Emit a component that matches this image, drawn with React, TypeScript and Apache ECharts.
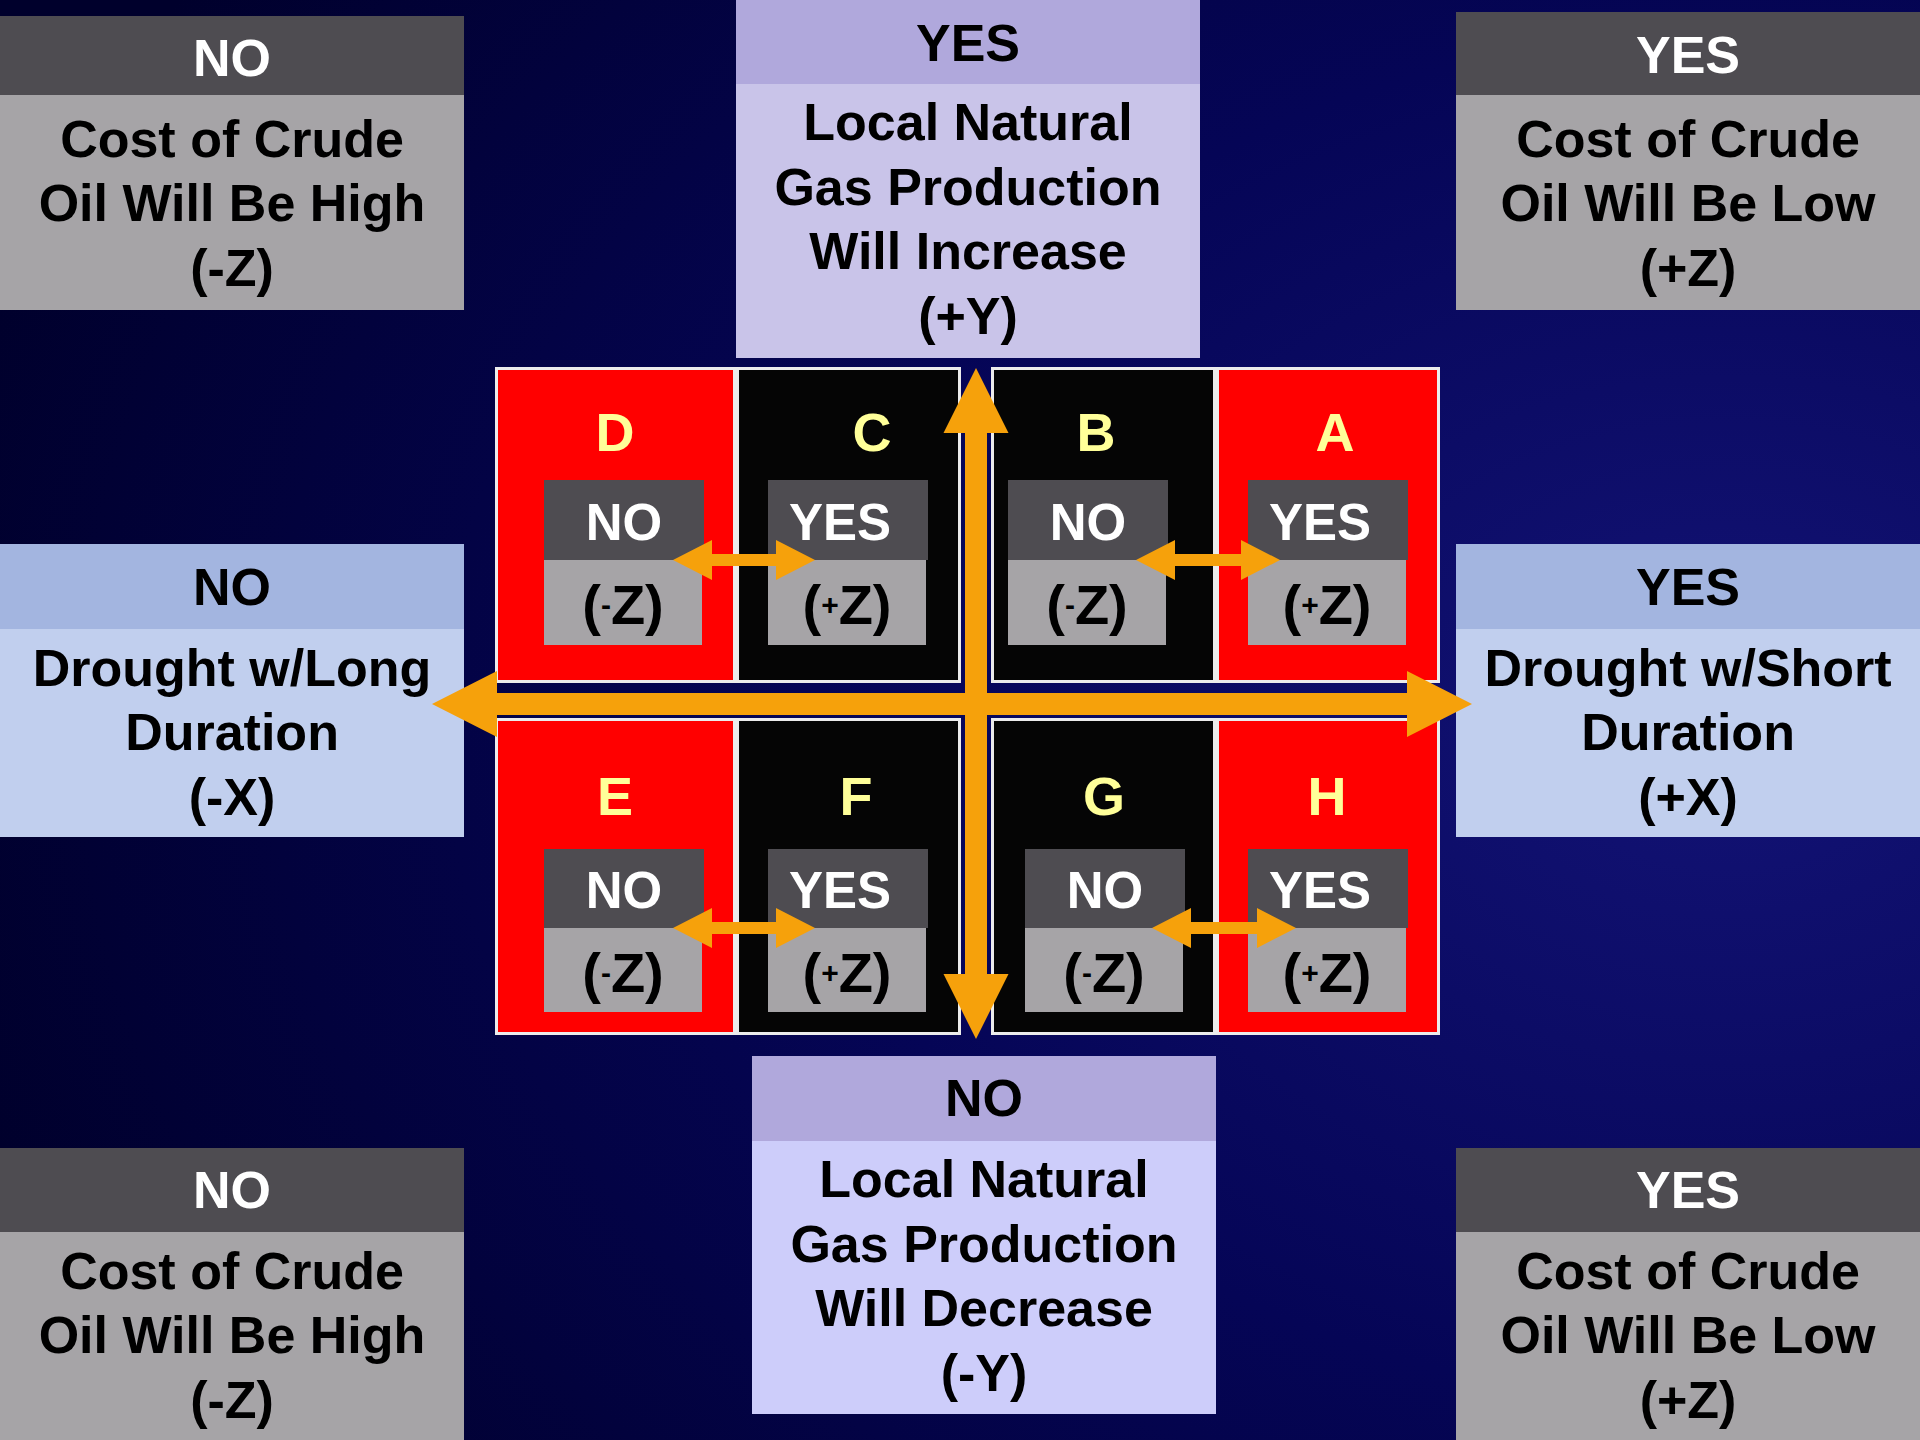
import React, { useEffect, useRef } from "react";
import * as echarts from "echarts";

// ---------- content ----------
const cornerHeaders = ["NO", "YES", "NO", "YES"]; // top-left, top-right, bottom-left, bottom-right
const cornerBodies = [
  "Cost of Crude\nOil Will Be High\n(-Z)",
  "Cost of Crude\nOil Will Be Low\n(+Z)",
  "Cost of Crude\nOil Will Be High\n(-Z)",
  "Cost of Crude\nOil Will Be Low\n(+Z)",
];
const yAxisHeaders = ["YES", "NO"]; // top, bottom
const yAxisBodies = [
  "Local Natural\nGas Production\nWill Increase\n(+Y)",
  "Local Natural\nGas Production\nWill Decrease\n(-Y)",
];
const xAxisHeaders = ["NO", "YES"]; // left, right
const xAxisBodies = ["Drought w/Long\nDuration\n(-X)", "Drought w/Short\nDuration\n(+X)"];
const cellLetters = ["D", "C", "B", "A", "E", "F", "G", "H"];
const cellAnswers = ["NO", "YES", "NO", "YES", "NO", "YES", "NO", "YES"];
const cellSigns = ["-", "+", "-", "+", "-", "+", "-", "+"];
const cellFills = ["red", "black", "black", "red", "red", "black", "black", "red"];

// ---------- layout / style ----------
const FONT = '"Liberation Sans", Arial, Helvetica, sans-serif';
const ORANGE = "#f6a10b";
const DARK_HEAD = "#4e4c51";
const GRAY_BODY = "#a6a4a7";
const LAV_HEAD = "#b0a8dc";
const LAV_BODY_TOP = "#c9c4e9";
const LAV_BODY_BOTTOM = "#cdcdfa";
const BLUE_HEAD = "#a3b5e0";
const BLUE_BODY = "#c1cfee";
const LETTER = "#ffff99";

function txt(x: number, y: number, text: string, fill: string, size: number, lineHeight?: number) {
  return {
    type: "text",
    x,
    y,
    style: {
      text,
      fill,
      fontSize: size,
      fontWeight: "bold",
      fontFamily: FONT,
      align: "center",
      verticalAlign: "middle",
      lineHeight: lineHeight || size * 1.2,
    },
  };
}

function rect(x: number, y: number, w: number, h: number, fill: string, stroke?: string, lw?: number) {
  return {
    type: "rect",
    shape: { x, y, width: w, height: h },
    style: stroke ? { fill, stroke, lineWidth: lw || 1 } : { fill },
  };
}

function bigBox(
  x: number, w: number, top: number, headBottom: number, bottom: number,
  headFill: string, bodyFill: string, headText: string, headColor: string,
  bodyText: string, headY: number, bodyY: number
) {
  return [
    rect(x, top, w, headBottom - top, headFill),
    rect(x, headBottom, w, bottom - headBottom, bodyFill),
    txt(x + w / 2, headY, headText, headColor, 52),
    txt(x + w / 2, bodyY, bodyText, "#000000", 52, 64.5),
  ];
}

function hArrow(x1: number, x2: number, y: number, sw: number, hl: number, hw: number) {
  return {
    type: "polygon",
    shape: {
      points: [
        [x1, y], [x1 + hl, y - hw / 2], [x1 + hl, y - sw / 2], [x2 - hl, y - sw / 2],
        [x2 - hl, y - hw / 2], [x2, y], [x2 - hl, y + hw / 2], [x2 - hl, y + sw / 2],
        [x1 + hl, y + sw / 2], [x1 + hl, y + hw / 2],
      ],
    },
    style: { fill: ORANGE },
  };
}

function vArrow(y1: number, y2: number, x: number, sw: number, hl: number, hw: number) {
  return {
    type: "polygon",
    shape: {
      points: [
        [x, y1], [x + hw / 2, y1 + hl], [x + sw / 2, y1 + hl], [x + sw / 2, y2 - hl],
        [x + hw / 2, y2 - hl], [x, y2], [x - hw / 2, y2 - hl], [x - sw / 2, y2 - hl],
        [x - sw / 2, y1 + hl], [x - hw / 2, y1 + hl],
      ],
    },
    style: { fill: ORANGE },
  };
}

function buildGraphics() {
  const g: any[] = [];
  // background
  g.push({
    type: "rect",
    shape: { x: 0, y: 0, width: 1920, height: 1440 },
    style: {
      fill: {
        type: "radial",
        x: 0.9,
        y: 0.5,
        r: 0.95,
        colorStops: [
          { offset: 0, color: "#131376" },
          { offset: 0.5, color: "#050556" },
          { offset: 1, color: "#00002c" },
        ],
      },
    },
  });

  // corner boxes
  const cornerGeo = [
    { x: 0, top: 16, hb: 95, bottom: 310, hy: 58, by: 203 },
    { x: 1456, top: 12, hb: 95, bottom: 310, hy: 55, by: 203 },
    { x: 0, top: 1148, hb: 1232, bottom: 1440, hy: 1190, by: 1335 },
    { x: 1456, top: 1148, hb: 1232, bottom: 1440, hy: 1190, by: 1335 },
  ];
  cornerGeo.forEach((c, i) => {
    g.push(...bigBox(c.x, 464, c.top, c.hb, c.bottom, DARK_HEAD, GRAY_BODY, cornerHeaders[i], "#ffffff", cornerBodies[i], c.hy, c.by));
  });

  // y-axis boxes
  g.push(...bigBox(736, 464, 0, 84, 358, LAV_HEAD, LAV_BODY_TOP, yAxisHeaders[0], "#000000", yAxisBodies[0], 43, 219));
  g.push(...bigBox(752, 464, 1056, 1141, 1414, LAV_HEAD, LAV_BODY_BOTTOM, yAxisHeaders[1], "#000000", yAxisBodies[1], 1098, 1276));

  // x-axis boxes
  g.push(...bigBox(0, 464, 544, 629, 837, BLUE_HEAD, BLUE_BODY, xAxisHeaders[0], "#000000", xAxisBodies[0], 587, 732));
  g.push(...bigBox(1456, 464, 544, 629, 837, BLUE_HEAD, BLUE_BODY, xAxisHeaders[1], "#000000", xAxisBodies[1], 587, 732));

  // cells
  const colX = [
    [495, 736],
    [736, 961],
    [991, 1216],
    [1216, 1440],
  ];
  const rowY = [
    [367, 683],
    [718, 1035],
  ];
  const letterX = [[615, 872, 1096, 1335], [615, 856, 1104, 1327]];
  const letterY = [432, 796];
  const boxX = [[544, 768, 1008, 1248], [544, 768, 1025, 1248]];
  const headY = [[480, 560], [849, 928]];
  const bodyBottom = [645, 1012];
  for (let r = 0; r < 2; r++) {
    for (let c = 0; c < 4; c++) {
      const i = r * 4 + c;
      const [x0, x1] = colX[c];
      const [y0, y1] = rowY[r];
      g.push(rect(x0 + 1.5, y0 + 1.5, x1 - x0 - 3, y1 - y0 - 3, cellFills[i] === "red" ? "#ff0000" : "#050505", "#ececec", 3));
    }
  }
  for (let r = 0; r < 2; r++) {
    for (let c = 0; c < 4; c++) {
      const i = r * 4 + c;
      const bx = boxX[r][c];
      const isYes = cellAnswers[i] === "YES";
      g.push(rect(bx, headY[r][0], 160, headY[r][1] - headY[r][0], DARK_HEAD));
      g.push(rect(bx, headY[r][1], 158, bodyBottom[r] - headY[r][1], GRAY_BODY));
      g.push(txt(letterX[r][c], letterY[r], cellLetters[i], LETTER, 54));
      g.push(txt(bx + (isYes ? 72 : 80), (headY[r][0] + headY[r][1]) / 2 + 2, cellAnswers[i], "#ffffff", 51));
      g.push({
        type: "text",
        x: bx + 79,
        y: (headY[r][1] + bodyBottom[r]) / 2 + 2,
        style: {
          text: "({s|" + cellSigns[i] + "}Z)",
          fill: "#000000",
          fontSize: 56,
          fontWeight: "bold",
          fontFamily: FONT,
          align: "center",
          verticalAlign: "middle",
          lineHeight: 60,
          rich: {
            s: {
              fontSize: 30,
              fontWeight: "bold",
              fontFamily: FONT,
              fill: "#000000",
              verticalAlign: "middle",
            },
          },
        },
      });
    }
  }

  // small double arrows
  g.push(hArrow(673, 815, 560, 12, 39, 40));
  g.push(hArrow(1136, 1280, 560, 12, 39, 40));
  g.push(hArrow(673, 815, 928, 12, 39, 40));
  g.push(hArrow(1152, 1296, 928, 12, 39, 40));

  // main axes
  g.push(hArrow(432, 1472, 704, 22, 65, 66));
  g.push(vArrow(368, 1039, 976, 22, 65, 65));
  return g;
}

export default function App() {
  const ref = useRef<HTMLDivElement>(null);
  useEffect(() => {
    document.body.style.margin = "0";
    if (!ref.current) return;
    const chart = echarts.init(ref.current, undefined, { renderer: "svg" });
    chart.setOption({
      animation: false,
      backgroundColor: "#000030",
      graphic: { elements: buildGraphics() },
    });
    return () => chart.dispose();
  }, []);
  return <div ref={ref} style={{ width: 1920, height: 1440 }} />;
}
